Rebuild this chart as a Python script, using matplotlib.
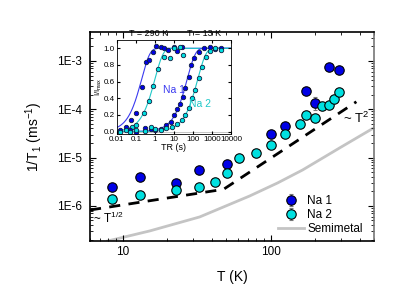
import numpy as np
import matplotlib
matplotlib.use("Agg")
import matplotlib.pyplot as plt
from matplotlib.ticker import FuncFormatter, LogLocator, NullFormatter

plt.rcParams["font.family"] = ["Liberation Sans", "DejaVu Sans"]
plt.rcParams["mathtext.default"] = "regular"

# main panel: 1/T1 vs T
na1_T = [8.5, 13, 23, 33, 51, 100, 125, 174, 198, 248, 288]
na1_rate = [2.5e-6, 4.0e-6, 3.0e-6, 5.5e-6, 7.3e-6, 3.1e-5, 4.4e-5, 2.4e-4, 1.37e-4, 7.6e-4, 6.5e-4]
na1_err = [0.1e-6, 0.1e-6, 0.4e-6, 0.8e-6, 0.6e-6, 2e-6, 6e-6, 1e-5, 4e-5, 8e-5, 8e-5]

na2_T = [8.5, 13, 23, 33, 42, 51, 61, 80, 100, 125, 159, 174, 198, 223, 248, 268, 288]
na2_rate = [1.37e-6, 1.7e-6, 2.13e-6, 2.43e-6, 3.17e-6, 4.9e-6, 9.9e-6, 1.26e-5, 1.85e-5,
            3.1e-5, 5.0e-5, 7.6e-5, 6.7e-5, 1.17e-4, 1.23e-4, 1.61e-4, 2.25e-4]
na2_err = [0.2e-6, 0.1e-6, 0.2e-6, 0.2e-6, 0.5e-6, 0.6e-6, 1e-6, 1e-6, 2e-6,
           3e-6, 4e-6, 1e-5, 5e-6, 8e-6, 8e-6, 1e-5, 1.5e-5]

# guide line (~T^1/2 then ~T^2)
guide_T = [6, 48, 380]
guide_rate = [8.2e-7, 2.2e-6, 1.43e-4]

semi_T = [7.9, 15.2, 33.1, 72.1, 111.4, 164.4, 292.5, 497]
semi_rate = [1.87e-7, 3.02e-7, 5.89e-7, 1.6e-6, 2.98e-6, 5.53e-6, 1.58e-5, 4.1e-5]

# inset: saturation recovery, I/Imax vs recovery time
na1_290_t = [0.015, 0.03, 0.055, 0.1, 0.2, 0.35, 0.5, 0.8, 1.2, 2, 3, 5, 10, 15, 25]
na1_290_v = [0.02, 0.05, 0.14, 0.22, 0.53, 0.84, 0.86, 0.95, 1.03, 1.02, 1.0, 0.98, 1.01, 0.97, 1.02]
na2_290_t = [0.015, 0.03, 0.06, 0.1, 0.25, 0.5, 0.8, 1.5, 3, 6, 10, 20, 30]
na2_290_v = [0.0, 0.02, 0.05, 0.08, 0.22, 0.37, 0.55, 0.75, 0.9, 0.88, 1.0, 1.02, 0.92]
na1_13_t = [0.05, 0.1, 0.3, 0.6, 1, 2, 4, 7, 10, 15, 20, 30, 40, 60, 80, 120, 200, 400, 800, 1500, 3000]
na1_13_v = [0.02, 0.0, 0.04, 0.03, 0.02, 0.03, 0.08, 0.12, 0.2, 0.27, 0.33, 0.42, 0.52, 0.66,
            0.8, 0.88, 0.95, 1.0, 1.01, 0.99, 1.0]
na2_13_t = [0.05, 0.1, 0.3, 0.6, 1, 2, 4, 8, 15, 25, 40, 60, 90, 130, 200, 300, 500, 800, 1500, 3000]
na2_13_v = [0.0, 0.02, 0.01, 0.05, 0.03, 0.02, 0.04, 0.05, 0.09, 0.14, 0.2, 0.28, 0.4, 0.5,
            0.64, 0.77, 0.9, 0.97, 1.0, 0.98]
fit_T1 = [0.2, 1.0, 50, 180]  # s: Na1 290K, Na2 290K, Na1 13K, Na2 13K

blue = "#0000e6"
cyan = "#00e0e0"

fig = plt.figure(figsize=(4.15, 2.91), dpi=100)
ax = fig.add_axes([0.2169, 0.1718, 0.6843, 0.7182])

ax.plot(guide_T, guide_rate, color="black", lw=2, ls=(0, (4, 3)), zorder=2)
ax.plot(semi_T, semi_rate, color="#c4c4c4", lw=2, label="Semimetal", zorder=1)
ax.errorbar(na1_T, na1_rate, yerr=na1_err, fmt="o", ms=6.8, mfc=blue, mec="black", mew=0.8,
            ecolor="#777777", elinewidth=0.8, capsize=1.5, label="Na 1", zorder=3)
ax.errorbar(na2_T, na2_rate, yerr=na2_err, fmt="o", ms=6.8, mfc=cyan, mec="black", mew=0.8,
            ecolor="#777777", elinewidth=0.8, capsize=1.5, label="Na 2", zorder=3)

ax.set_xscale("log")
ax.set_yscale("log")
ax.set_xlim(6, 500)
ax.set_ylim(1.87e-7, 3.98e-3)
ax.yaxis.set_major_locator(LogLocator(base=10, numticks=10))
ax.yaxis.set_major_formatter(FuncFormatter(lambda v, p: "1E%d" % round(np.log10(v))))
ax.yaxis.set_minor_formatter(NullFormatter())
ax.xaxis.set_major_formatter(FuncFormatter(lambda v, p: "%g" % v))
ax.xaxis.set_minor_formatter(NullFormatter())
ax.tick_params(which="both", direction="in", top=True, right=True, labelsize=8.5)
ax.tick_params(which="major", length=4)
ax.tick_params(which="minor", length=2)
ax.tick_params(axis="y", pad=6)
for s in ax.spines.values():
    s.set_linewidth(1.2)
ax.spines["right"].set_color("#777777")
ax.set_xlabel("T (K)", fontsize=10)
ax.set_ylabel("1/T$_1$ (ms$^{-1}$)", fontsize=10)
ax.xaxis.set_label_coords(0.5, -0.14)
ax.yaxis.set_label_coords(-0.158, 0.5)

ax.text(6.3, 5.6e-7, "~ T$^{1/2}$", fontsize=8.5, va="center")
ax.text(310, 6.6e-5, "~ T$^2$", fontsize=9.5, va="center")

h, l = ax.get_legend_handles_labels()
order = [1, 2, 0]
ax.legend([h[i] for i in order], [l[i] for i in order], loc="lower right", frameon=False,
          fontsize=8.5, handlelength=2.2, handletextpad=0.3, labelspacing=0.15,
          borderaxespad=0.3, bbox_to_anchor=(0.99, -0.01))

# inset
ins = fig.add_axes([0.2819, 0.5395, 0.2747, 0.323])
tt = np.logspace(-2, 4, 300)
fit_colors = ["#3a3af0", "#20c8c8", "#3a3af0", "#20c8c8"]
for T1, c in zip(fit_T1, fit_colors):
    ins.plot(tt, 1 - np.exp(-tt / T1), color=c, lw=0.8, zorder=1)
ins.axhline(0, color="#bbbbbb", lw=0.6, zorder=0)
for t, v, c in [(na1_290_t, na1_290_v, blue), (na2_290_t, na2_290_v, cyan),
                (na1_13_t, na1_13_v, blue), (na2_13_t, na2_13_v, cyan)]:
    ins.plot(t, v, "o", ms=3.2, mfc=c, mec="#102040", mew=0.6, zorder=2)
ins.set_xscale("log")
ins.set_xlim(0.01, 10000)
ins.set_ylim(-0.03, 1.1)
ins.set_xticks([0.01, 0.1, 1, 10, 100, 1000, 10000])
ins.xaxis.set_major_formatter(FuncFormatter(lambda v, p: "%g" % v))
ins.xaxis.set_minor_formatter(NullFormatter())
ins.set_yticks([0, 0.2, 0.4, 0.6, 0.8, 1.0])
ins.yaxis.set_major_formatter(FuncFormatter(lambda v, p: "%.1f" % v))
ins.tick_params(which="both", direction="in", top=True, right=True, labelsize=5.8, pad=1.5)
ins.tick_params(which="major", length=2)
ins.tick_params(which="minor", length=1)
for s in ins.spines.values():
    s.set_linewidth(0.6)
ins.set_xlabel("TR (s)", fontsize=6.5, labelpad=0)
ins.set_ylabel("I/I$_{max}$", fontsize=5.5, labelpad=0)
ins.text(0.45, 1.12, "T = 290 K", fontsize=6.5, ha="center", va="bottom")
ins.text(380, 1.12, "T = 13 K", fontsize=6.5, ha="center", va="bottom")
ins.text(2.5, 0.5, "Na 1", fontsize=7.5, color="#3a3af0", va="center")
ins.text(60, 0.33, "Na 2", fontsize=7.5, color="#20c8c8", va="center")

fig.savefig("out.png", dpi=100)
